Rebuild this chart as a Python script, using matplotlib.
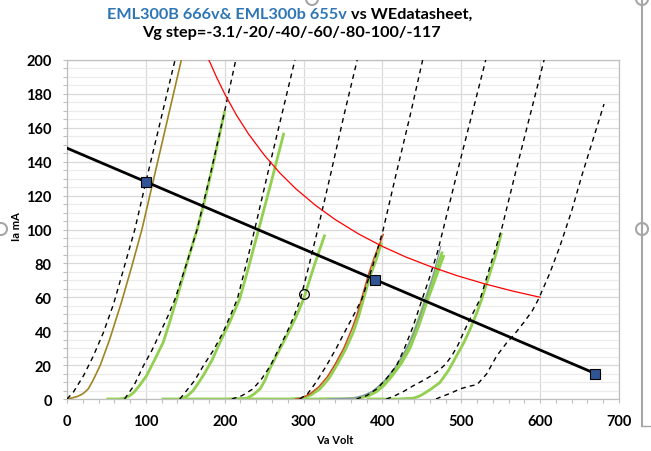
import matplotlib
matplotlib.use('Agg')
import matplotlib.pyplot as plt
from matplotlib.ticker import MultipleLocator
from matplotlib.patches import Ellipse
from matplotlib.lines import Line2D

plt.rcParams['font.family'] = ['Lato', 'DejaVu Sans']

# ---- data (Va in volts, Ia in mA) ----
# WE datasheet curves (black dashed)
we_curves = [
    ([0, 8, 21, 33, 46, 59, 72, 86, 100, 118, 137],
     [0, 4, 13.8, 25, 39, 56, 77, 100, 128, 163, 200]),
    ([73, 85, 97, 108, 118, 128, 137, 151, 165, 183, 200, 214],
     [0, 8, 19.7, 29, 39, 49, 59, 79, 100, 135, 170, 200]),
    ([143, 150, 162, 173, 186, 198, 207, 216, 227, 238, 255, 272, 289],
     [0, 4, 11, 19.7, 29, 39.4, 49, 59, 79, 100, 134, 167, 200]),
    ([209, 222, 236, 247, 258, 268, 279, 288, 296, 307, 318, 335, 351, 368],
     [0, 2, 6, 12, 19.7, 29, 39.4, 49, 59, 79, 100, 134, 167, 200]),
    ([295, 305, 316, 329, 341, 352, 363, 374, 388, 401, 418, 435, 451],
     [0, 3, 10, 19.7, 29.5, 39.4, 49, 59, 79, 100, 134, 167, 200]),
    ([367, 380, 393, 405, 418, 428, 439, 449, 460, 470, 477, 495, 513, 531],
     [0, 2, 6, 12, 19.7, 30, 43, 57, 72, 87, 100, 134, 167, 200]),
    ([405, 414, 427, 439, 452, 463, 471, 480, 488, 496, 503, 513, 524, 537, 551, 569, 587, 605],
     [0, 1.5, 4.5, 7.8, 11, 14, 16.7, 20.5, 25.5, 32, 39.4, 49, 59, 79, 100, 134, 167, 200]),
    ([468, 475, 487, 498, 510, 520, 532, 545, 558, 566, 579, 590, 598, 612, 625, 640, 653, 667, 681],
     [0, 1.4, 3.5, 5.9, 7.5, 8.5, 14.7, 25.5, 33.4, 37.4, 45, 52, 59, 74, 90, 111, 132, 153, 174]),
]

# EML300B measured curves (green)
eml_curves = [
    ([50, 65, 73, 79, 85, 92, 101, 111, 122, 130, 139, 152, 165, 173, 186, 200],
     [0, 0, 0.5, 1.8, 4, 8, 13.8, 23, 33.4, 45, 59, 80, 100, 114, 140, 170]),
    ([120, 140, 147, 153, 160, 166, 173, 184, 194, 207, 219, 231, 243, 259, 275],
     [0, 0, 0.5, 2, 5, 9, 14, 23, 33.4, 46, 59, 79, 100, 128, 157]),
    ([150, 200, 228, 236, 245, 251, 257, 270, 281, 291, 300, 313, 327],
     [0, 0, 0.4, 2.5, 6, 11, 17.7, 29.5, 39.3, 49, 59, 78, 97]),
    ([220, 280, 299, 310, 321, 332, 342, 353, 363, 370, 376, 384, 392, 399],
     [0, 0, 0.5, 2.5, 6, 12, 19.7, 29, 39.4, 49, 59, 72, 82, 92.4]),
    ([300, 350, 368, 380, 390, 399, 410, 421, 432, 443, 454, 465, 476],
     [0, 0, 0.5, 2, 4.5, 8, 14, 21, 30, 43, 58, 72, 87]),
    ([320, 360, 371, 383, 393, 402, 413, 424, 435, 446, 457, 468, 478],
     [0, 0, 0.5, 2, 4.5, 8, 14, 21, 30, 43, 58, 72, 85]),
    ([380, 420, 439, 446, 452, 462, 473, 484, 494, 503, 511, 519, 526, 534, 543, 551],
     [0, 0, 0.5, 1.5, 3, 6, 9.8, 17, 25.5, 33, 41, 50, 59, 71, 84, 98]),
]

# Vg = -3.1 V measured curve (olive)
olive_v = [0, 8, 13, 18, 22, 27, 33, 42, 54, 69, 82, 95, 109, 127, 145]
olive_i = [0, 0.8, 1.5, 2.5, 3.8, 6, 11, 19.7, 35, 57, 78, 100, 128, 164, 200]

# EML300b 655v curve (orange-red)
orange_v = [290, 297, 308, 319, 330, 340, 351, 361, 368, 374, 382, 390, 401]
orange_i = [0, 0.5, 3, 7, 13, 20.5, 30, 41, 50, 60, 73, 84, 97]

# thin grey-blue curve
grey_v = [330, 362, 375, 387, 396, 405, 415, 426, 437, 447, 457, 466, 474]
grey_i = [0, 0.5, 2, 4.5, 8, 12, 18, 26, 36, 48, 62, 76, 90]

# plate dissipation limit
pd_v = [179, 190, 200, 215, 230, 250, 270, 290, 315, 340, 370, 400, 430, 460, 495, 530, 565, 600]
pd_i = [201, 189.5, 180, 167.4, 156.5, 144, 133.3, 124.1, 114.3, 105.9, 97.3, 90, 83.7, 78.3, 72.7, 67.9, 63.7, 60]

# load line and operating points
load_v = [0, 670]
load_i = [148, 15]
pts_v = [100, 390, 670]
pts_i = [128, 70, 15]
op_v = [300]
op_i = [62]

title_blue = 'EML300B 666v& EML300b 655v'
title_black = ' vs WEdatasheet,'
title_line2 = 'Vg step=-3.1/-20/-40/-60/-80-100/-117'

# ---- figure ----
W, H = 651, 452
fig = plt.figure(figsize=(W / 100, H / 100), dpi=100)
ax = fig.add_axes([67 / W, 1 - 400 / H, (619 - 67) / W, (400 - 61) / H])

for v, i in eml_curves:
    ax.plot(v, i, color='#92D050', lw=2.0, solid_capstyle='butt', zorder=2)
ax.plot(olive_v, olive_i, color='#A08424', lw=1.2, zorder=3)
ax.plot(orange_v, orange_i, color='#C8501E', lw=1.1, zorder=3)
ax.plot(grey_v, grey_i, color='#8497B0', lw=0.9, zorder=3)
for v, i in we_curves:
    ax.plot(v, i, color='black', lw=1.0, ls=(0, (3.5, 3)), zorder=4)
ax.plot(pd_v, pd_i, color='#FF0000', lw=0.9, zorder=4)
ax.plot(load_v, load_i, color='black', lw=2.0, zorder=5)
ax.plot(pts_v, pts_i, ls='none', marker='s', ms=6.5, mfc='#2F5597',
        mec='black', mew=0.8, zorder=6)
ax.plot(op_v, op_i, ls='none', marker='o', ms=7, mfc='none',
        mec='black', mew=0.9, zorder=6)

ax.set_xlim(0, 700)
ax.set_ylim(0, 200)
ax.xaxis.set_major_locator(MultipleLocator(100))
ax.xaxis.set_minor_locator(MultipleLocator(20))
ax.yaxis.set_major_locator(MultipleLocator(20))
ax.yaxis.set_minor_locator(MultipleLocator(5))
ax.xaxis.grid(True, which='major', color='#D9D9D9', lw=0.9)
ax.yaxis.grid(True, which='major', color='#D9D9D9', lw=0.9)
ax.yaxis.grid(True, which='minor', color='#EBEBEB', lw=0.8)
ax.set_axisbelow(True)
for s in ax.spines.values():
    s.set_color('#BFBFBF')
    s.set_linewidth(0.9)
ax.tick_params(which='both', direction='out', length=3, color='#BFBFBF', width=0.8)
ax.tick_params(axis='x', which='major', pad=8)
ax.tick_params(axis='y', which='major', pad=8)
for lab in ax.get_xticklabels() + ax.get_yticklabels():
    lab.set_fontweight('bold')
    lab.set_fontsize(10.5)

fig.text(16 / W, 1 - 227 / H, 'Ia mA', rotation=90, ha='center', va='center',
         fontsize=8, fontweight='bold')
fig.text(335 / W, 1 - 441 / H, 'Va Volt', ha='center', va='center',
         fontsize=8, fontweight='bold')

# two-coloured title
renderer = fig.canvas.get_renderer()
tsize = 11.7
t1 = fig.text(0, 1 - 15 / H, title_blue, color='#2E75B6', fontsize=tsize,
              fontweight='bold', ha='left', va='center')
t2 = fig.text(0, 1 - 15 / H, title_black, color='black', fontsize=tsize,
              fontweight='bold', ha='left', va='center')
w1 = t1.get_window_extent(renderer).width
w2 = t2.get_window_extent(renderer).width
x0 = 290 - (w1 + w2) / 2
t1.set_x(x0 / W)
t2.set_x((x0 + w1) / W)
fig.text(291 / W, 1 - 33 / H, title_line2, color='black', fontsize=tsize,
         fontweight='bold', ha='center', va='center')

# chart frame handles
hc = '#A6A6A6'
fig.add_artist(Line2D([642 / W, 642 / W], [1, 1 - 427 / H], color=hc, lw=1.5))
fig.add_artist(Line2D([642 / W, 1], [1 - 427 / H, 1 - 427 / H], color=hc, lw=1))
for cx, cy in [(642, 0), (642, 230), (1, 230), (312, 0)]:
    fig.add_artist(Ellipse((cx / W, 1 - cy / H), 12 / W, 12 / H,
                           facecolor='white', edgecolor=hc, lw=1.5))

fig.savefig('out.png', dpi=100)
